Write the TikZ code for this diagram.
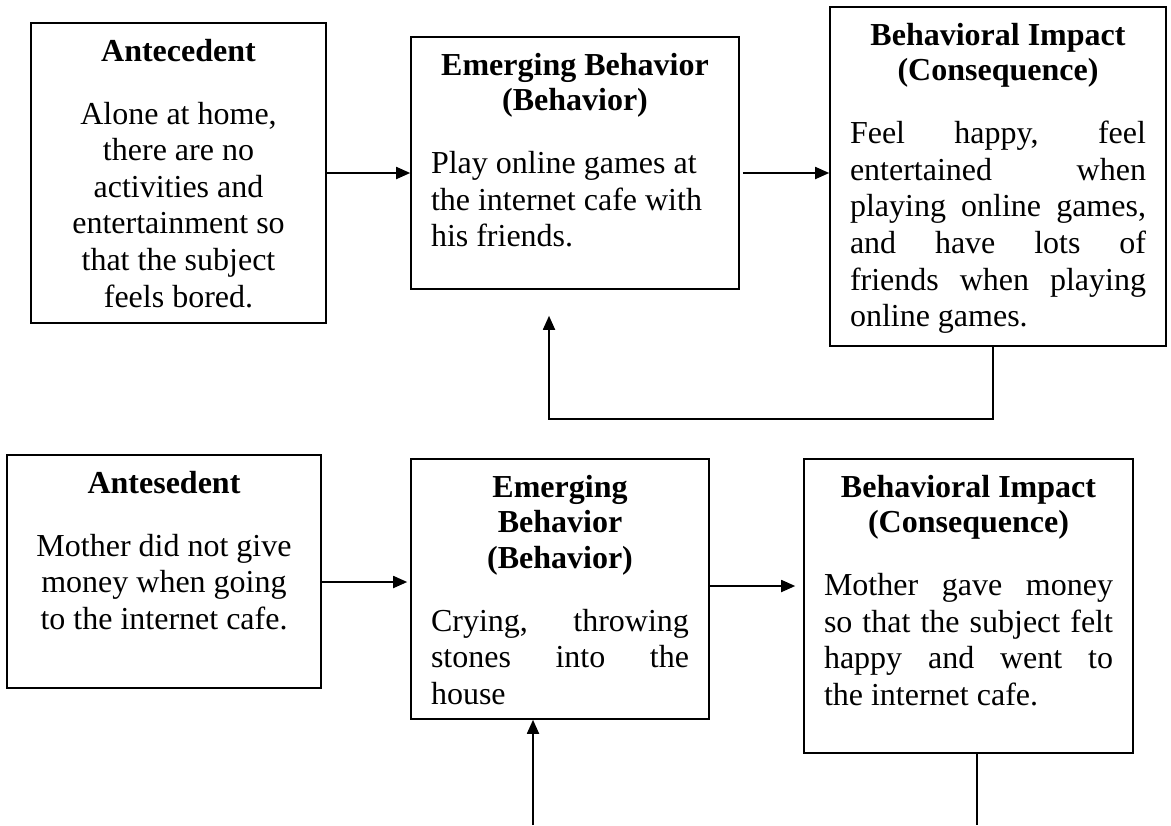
\documentclass[tikz,border=0pt]{standalone}
\usepackage{fontspec}
\setmainfont{Liberation Serif}
\usetikzlibrary{arrows.meta}

% width, height, heading, body alignment, body
\newcommand{\cellbox}[5]{%
  \begin{minipage}[t][#2][t]{#1}%
    \centering
    \begin{minipage}[t]{\dimexpr#1-20pt\relax}%
      \tolerance=10000 \hyphenpenalty=10000
      {\centering\bfseries\fontsize{16pt}{17.8pt}\selectfont\rule{0pt}{19pt}#3\par}%
      \vspace{13.2pt}%
      {\fontsize{16pt}{18.3pt}\selectfont#4#5\par}%
    \end{minipage}%
  \end{minipage}}

\begin{document}
\begin{tikzpicture}
  [every node/.style={inner sep=0pt},
   cell/.style={draw=black, line width=0.8pt},
   flow/.style={line width=0.9pt, -{Triangle[length=7pt,width=6pt]}},
   link/.style={line width=0.6pt}]
  \useasboundingbox (0pt,0pt) rectangle (585.5pt,-412.5pt);
  % upper chain
  \node (ant1) [cell] at (89.25pt, -86.5pt) {\cellbox{147.5pt}{150pt}{Antecedent}{\centering}{Alone at home,\\ there are no\\ activities and\\ entertainment so\\ that the subject\\ feels bored.}};
  \node (beh1) [cell] at (287.5pt, -81.5pt) {\cellbox{164pt}{126pt}{Emerging Behavior\\ (Behavior)}{\raggedright}{Play online games at\\ the internet cafe with\\ his friends.}};
  \node (con1) [cell] at (499pt, -88.25pt) {\cellbox{168pt}{169.5pt}{Behavioral Impact\\ (Consequence)}{}{Feel happy, feel\linebreak entertained when\linebreak playing online games,\linebreak and have lots of\linebreak friends when playing\linebreak online games.}};
  \draw [flow] (ant1.east) -- (ant1.east -| beh1.west);
  \draw [flow] ([xshift=1.5pt]beh1.east |- ant1.east) -- (con1.west |- ant1.east);
  \coordinate (ret1) at (274.5pt, -209.5pt);
  \draw [flow] ([xshift=-2.5pt]con1.south) |- (ret1) -- ([yshift=-13pt]beh1.south -| ret1);
  % lower chain
  \node (ant2) [cell] at (82pt, -285.75pt) {\cellbox{157pt}{116.5pt}{Antesedent}{\centering}{Mother did not give\\ money when going\\ to the internet cafe.}};
  \node (beh2) [cell] at (280pt, -294.5pt) {\cellbox{149pt}{130pt}{Emerging\\ Behavior\\ (Behavior)}{}{Crying, throwing\linebreak stones into the\linebreak house}};
  \node (con2) [cell] at (484.25pt, -303pt) {\cellbox{164.5pt}{147pt}{Behavioral Impact\\ (Consequence)}{}{Mother gave money\linebreak so that the subject felt\linebreak happy and went to\linebreak the internet cafe.}};
  \coordinate (out2) at ([yshift=-5.25pt]ant2.east);
  \draw [flow] (out2) -- ([xshift=-1.5pt]beh2.west |- out2);
  \coordinate (in2) at ([yshift=1.5pt]beh2.east);
  \draw [flow] (in2) -- ([xshift=-4pt]con2.west |- in2);
  \coordinate (src2) at (266.5pt, -412.5pt);
  \draw [flow] (src2) -- (src2 |- beh2.south);
  \coordinate (snk2) at (488.5pt, -412.5pt);
  \draw [link] (con2.south -| snk2) -- (snk2);
\end{tikzpicture}
\end{document}
